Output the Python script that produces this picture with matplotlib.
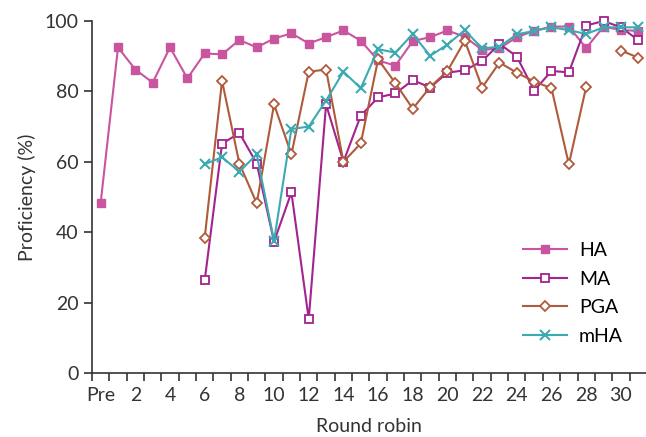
import numpy as np
import matplotlib
matplotlib.use("Agg")
from matplotlib import pyplot as plt

plt.rcParams['font.family'] = ['Lato', 'DejaVu Sans']

# x positions: 0 = "Pre", then rounds 1..31
rounds = np.arange(0, 32)
tick_labels = ['Pre'] + [str(k) for k in range(2, 31, 2)]

nan = np.nan
# values (%)
ha = [48.3, 92.5, 86.2, 82.5, 92.5, 83.7, 90.8, 90.5, 94.6, 92.5, 95.0,
      96.5, 93.6, 95.4, 97.3, 94.4, 88.8, 87.3, 94.3, 95.4, 97.3,
      95.5, 91.8, 92.2, 95.4, 97.2, 98.4, 98.4, 92.3, 98.4, 97.4, 97.2]
ma = [nan] * 6 + [26.3, 65.1, 68.2, 59.5, 37.3, 51.3, 15.3, 76.3, 60.0, 73.1,
                  78.3, 79.4, 83.2, 81.1, 85.3, 86.0, 88.6, 93.5, 89.9, 80.2,
                  85.8, 85.4, 98.7, 100.0, 98.2, 94.6]
pga = [nan] * 6 + [38.4, 83.0, 59.5, 48.2, 76.3, 62.1, 85.6, 86.2, 60.0, 65.2,
                   89.1, 82.3, 75.1, 81.2, 85.8, 94.4, 81.1, 88.2, 85.3, 82.8,
                   80.9, 59.3, 81.3, nan, 91.6, 89.6]
mha = [nan] * 6 + [59.3, 61.3, 57.2, 62.1, 37.5, 69.3, 70.0, 77.4, 85.6, 80.9,
                   92.0, 91.0, 96.3, 90.1, 93.3, 97.4, 92.2, 92.7, 96.2, 97.2,
                   98.2, 97.4, 96.3, 98.2, 98.2, 98.2]

fig = plt.figure(figsize=(6.46, 4.37), dpi=100)
ax = fig.add_axes([0.1424, 0.1465, 0.8576, 0.8055])

ax.plot(rounds, ha, color='#C9559F', marker='s', markersize=6, lw=1.5,
        markeredgecolor='#C9559F', label='HA', clip_on=False)
ax.plot(rounds, ma, color='#A3238F', marker='s', markersize=5.5, lw=1.5,
        markerfacecolor='white', markeredgewidth=1.3, label='MA', clip_on=False)
ax.plot(rounds, pga, color='#B05A3C', marker='D', markersize=5.5, lw=1.5,
        markerfacecolor='white', markeredgewidth=1.3, label='PGA', clip_on=False)
ax.plot(rounds, mha, color='#3DAAB1', marker='x', markersize=6.5, lw=1.5,
        markeredgewidth=1.5, label='mHA', clip_on=False)

ax.set_xlim(-0.5, 31.45)
ax.set_ylim(0, 100)
ax.set_yticks(range(0, 101, 20))
ax.set_xticks(np.arange(-0.5, 31, 1.0))
ax.set_xticklabels([])
ax.set_xticks(range(0, 31, 2), minor=True)
ax.set_xticklabels(tick_labels, minor=True)
ax.tick_params(axis='x', which='major', direction='out', length=6, width=1.2)
ax.tick_params(axis='x', which='minor', length=0, pad=10)
ax.tick_params(axis='y', direction='out', length=6, width=1.2)
ax.tick_params(which='both', labelsize=14, colors='#333333')

for side in ['top', 'right']:
    ax.spines[side].set_visible(False)
for side in ['left', 'bottom']:
    ax.spines[side].set_linewidth(1.2)
    ax.spines[side].set_color('#333333')

ax.set_xlabel('Round robin', fontsize=14, labelpad=10, color='#333333')
ax.set_ylabel('Proficiency (%)', fontsize=14, labelpad=6, color='#333333')

ax.legend(loc='lower right', bbox_to_anchor=(0.99, 0.03), frameon=False,
          fontsize=14, handlelength=2.3, labelspacing=0.6, handletextpad=0.6)

plt.savefig('out.png', dpi=100)
